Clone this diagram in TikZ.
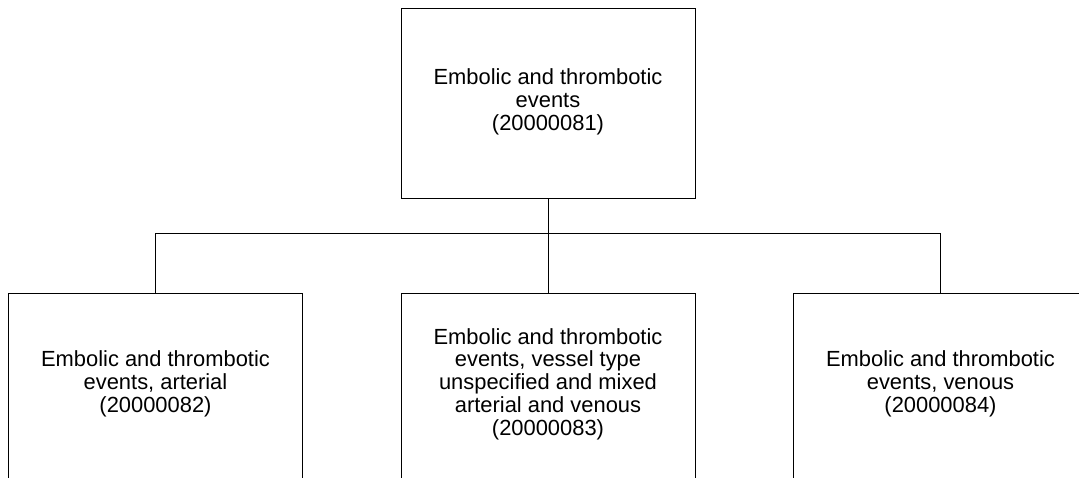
\documentclass[tikz,border=0pt]{standalone}
\usepackage{fontspec}
\setmainfont{Liberation Sans}
\begin{document}
\begin{tikzpicture}[x=1pt,y=-1pt,
  box/.style={draw=black,line width=0.9pt,minimum width=294pt,minimum height=190pt,inner sep=0pt,anchor=center},
  txt/.style={align=center,inner sep=0pt,font=\fontsize{21.9pt}{22.7pt}\selectfont},
  conn/.style={draw=black,line width=0.9pt}]
\useasboundingbox (0,0) rectangle (1079,478);
\node[box] (top) at (548,103) {};
\node[txt] (ttop) at (548,102) {Embolic and thrombotic\\events\\(20000081)};
\node[box] (b1) at (155.5,388) {};
\node[box] (b2) at (548,388) {};
\node[box] (b3) at (940.5,388) {};
\node[txt] (t1) at (155.5,384) {Embolic and thrombotic\\events, arterial\\(20000082)};
\node[txt] (t2) at (548,384) {Embolic and thrombotic\\events, vessel type\\unspecified and mixed\\arterial and venous\\(20000083)};
\node[txt] (t3) at (940.5,384) {Embolic and thrombotic\\events, venous\\(20000084)};
\coordinate (bus) at (548,233);
\draw[conn] (top.south) -- (b2.north);
\draw[conn] (b1.north) -- (b1.north |- bus) -- (b3.north |- bus) -- (b3.north);
\end{tikzpicture}
\end{document}
